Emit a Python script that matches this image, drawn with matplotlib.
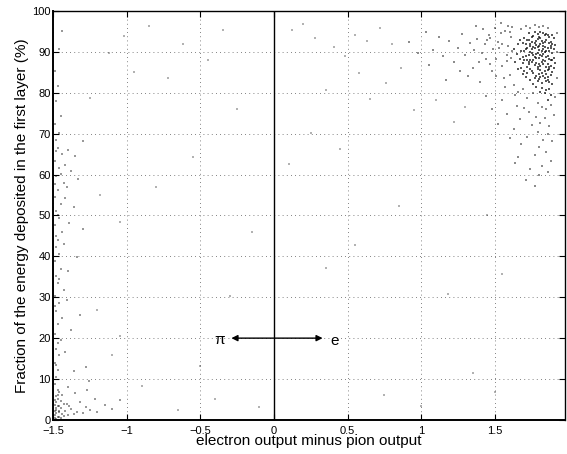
import numpy as np
import matplotlib
matplotlib.use('Agg')
import matplotlib.pyplot as plt

plt.rcParams['font.family'] = ['Liberation Sans', 'DejaVu Sans']

# dense electron cluster (output difference, energy fraction %)
core_pts = [
    (1.70, 90.1), (1.78, 88.4), (1.84, 91.2), (1.81, 85.6), (1.75, 92.3), (1.88, 87.9), (1.72, 86.4), (1.79, 93.1), (1.86, 83.2), (1.83, 89.5),
    (1.69, 88.8), (1.76, 84.7), (1.90, 90.6), (1.74, 91.5), (1.82, 82.4), (1.87, 93.6), (1.80, 87.1), (1.77, 90.9), (1.85, 86.2), (1.73, 89.3),
    (1.66, 91.8), (1.89, 85.0), (1.71, 83.9), (1.84, 94.2), (1.78, 81.5), (1.81, 91.9), (1.86, 89.0), (1.75, 87.6), (1.68, 86.0), (1.83, 84.1),
    (1.79, 89.8), (1.88, 92.4), (1.72, 92.8), (1.85, 80.6), (1.76, 93.9), (1.80, 83.3), (1.87, 88.3), (1.70, 85.2), (1.82, 92.7), (1.74, 88.1),
    (1.91, 87.2), (1.77, 86.8), (1.84, 87.7), (1.65, 89.4), (1.81, 80.2), (1.89, 82.1), (1.73, 94.5), (1.86, 91.0), (1.79, 85.9), (1.83, 92.1),
    (1.71, 90.6), (1.88, 79.4), (1.76, 89.1), (1.82, 88.9), (1.67, 92.9), (1.85, 84.6), (1.78, 91.6), (1.90, 93.3), (1.74, 83.0), (1.80, 90.4),
    (1.87, 85.8), (1.69, 87.3), (1.84, 79.9), (1.77, 94.8), (1.81, 86.5), (1.86, 94.0), (1.72, 88.0), (1.83, 90.8), (1.75, 85.4), (1.89, 89.6),
    (1.79, 82.8), (1.64, 87.5), (1.85, 92.8), (1.70, 93.4), (1.82, 84.9), (1.88, 91.3), (1.76, 91.1), (1.80, 93.7), (1.84, 85.3), (1.73, 86.9),
    (1.87, 82.7), (1.78, 87.3), (1.90, 88.5), (1.68, 90.3), (1.81, 89.2), (1.86, 78.3), (1.74, 90.0), (1.83, 86.9), (1.77, 83.6), (1.89, 94.1),
    (1.71, 91.9), (1.85, 88.7), (1.79, 94.4), (1.82, 81.1), (1.66, 85.7), (1.88, 84.4), (1.75, 89.7), (1.84, 83.7), (1.80, 91.4), (1.87, 90.2),
    (1.72, 84.8), (1.78, 92.6), (1.91, 91.7), (1.83, 94.6), (1.69, 92.2), (1.86, 87.0), (1.76, 82.2), (1.81, 93.4), (1.74, 92.0), (1.85, 90.1),
    (1.79, 86.3), (1.88, 86.6), (1.70, 87.9), (1.82, 90.3), (1.77, 88.7), (1.84, 92.5), (1.67, 88.3), (1.87, 80.9), (1.73, 93.0), (1.80, 84.5),
    (1.89, 92.0), (1.75, 90.7), (1.83, 88.1), (1.78, 84.0), (1.86, 85.5), (1.71, 89.0), (1.81, 94.9), (1.85, 82.9), (1.76, 87.9), (1.90, 86.1),
    (1.63, 90.8), (1.82, 87.5), (1.88, 90.9), (1.74, 85.9), (1.79, 91.2), (1.84, 89.9), (1.72, 91.0), (1.87, 92.2), (1.77, 92.1), (1.80, 88.6),
    (1.86, 83.9), (1.69, 84.6), (1.83, 91.5), (1.75, 93.5), (1.89, 88.0), (1.81, 83.8), (1.78, 89.4), (1.85, 94.4), (1.73, 87.4), (1.87, 86.4),
]

halo_pts = [
    (1.52, 92.4), (1.58, 89.1), (1.46, 94.0), (1.61, 93.6), (1.55, 86.5), (1.49, 90.7), (1.60, 84.3), (1.43, 91.8), (1.57, 95.2), (1.63, 82.0),
    (1.51, 88.2), (1.38, 93.1), (1.59, 91.4), (1.54, 94.6), (1.47, 87.0), (1.62, 96.1), (1.41, 89.6), (1.56, 83.7), (1.50, 95.8), (1.64, 79.5),
    (1.45, 92.9), (1.58, 87.8), (1.36, 90.5), (1.53, 90.9), (1.60, 94.8), (1.48, 85.4), (1.65, 76.8), (1.42, 95.5), (1.55, 92.0), (1.61, 88.6),
    (1.33, 92.2), (1.57, 81.4), (1.44, 88.3), (1.59, 96.4), (1.51, 84.0), (1.39, 87.6), (1.62, 90.2), (1.54, 97.0), (1.47, 93.3), (1.66, 80.1),
    (1.68, 95.6), (1.71, 96.3), (1.74, 95.9), (1.77, 96.6), (1.80, 96.0), (1.83, 96.2), (1.86, 95.7), (1.69, 81.0), (1.72, 78.7), (1.76, 79.9),
    (1.79, 77.6), (1.82, 76.4), (1.85, 75.9), (1.88, 77.0), (1.91, 79.0), (1.92, 83.5), (1.92, 89.9), (1.92, 94.5), (1.73, 75.2), (1.78, 74.1),
    (1.81, 72.6), (1.84, 73.8), (1.87, 71.9), (1.90, 74.6), (1.70, 76.3), (1.86, 69.8), (1.83, 68.5), (1.79, 70.4), (1.75, 72.0), (1.89, 68.1),
    (1.67, 73.5), (1.80, 66.7), (1.85, 65.4), (1.72, 69.2), (1.77, 64.8), (1.88, 63.3), (1.63, 71.1), (1.82, 62.0), (1.58, 74.7), (1.68, 67.4),
    (1.74, 61.4), (1.55, 78.2), (1.66, 64.3), (1.80, 59.8), (1.60, 68.9), (1.71, 58.6), (1.86, 60.5), (1.52, 72.4), (1.64, 62.7), (1.77, 57.1),
    (1.35, 86.0), (1.30, 89.2), (1.28, 94.3), (1.25, 91.0), (1.22, 87.4), (1.19, 92.6), (1.15, 88.9), (1.32, 84.1), (1.40, 82.6), (1.44, 79.3),
    (1.48, 76.0), (1.37, 96.2), (1.26, 85.3), (1.12, 93.5), (1.08, 90.4), (1.03, 94.9), (0.98, 89.7), (1.05, 86.8), (0.92, 92.3), (1.17, 83.0),
]

sparse_pts = [
    (0.12, 95.3), (0.20, 96.8), (0.28, 93.4), (0.41, 91.2), (0.55, 94.1), (0.63, 92.6), (0.72, 95.7), (0.80, 91.9), (0.35, 80.6), (0.48, 88.9),
    (0.58, 84.7), (0.86, 86.1), (0.76, 82.3), (0.65, 78.5), (0.25, 70.2), (0.95, 75.8), (1.10, 78.1), (1.22, 72.9), (1.30, 76.5), (0.45, 66.3),
    (-0.35, 95.4), (-0.62, 92.0), (-0.85, 96.2), (-1.02, 93.8), (-0.45, 88.1), (-0.25, 75.9), (-0.72, 83.5), (-0.95, 85.0), (-1.12, 89.6), (-1.25, 78.7),
    (-0.55, 64.2), (-0.80, 57.0), (-1.05, 48.3), (-1.18, 54.9), (-0.15, 46.0), (0.35, 37.1), (1.18, 30.8), (1.35, 11.5), (0.75, 6.0), (1.00, 3.5),
    (-0.10, 3.2), (-0.40, 5.0), (-0.65, 2.5), (-0.90, 8.2), (-1.10, 16.0), (-1.20, 27.0), (-1.05, 20.5), (-0.50, 13.3), (0.55, 42.7), (1.50, 6.8),
    (1.55, 35.6), (0.10, 62.5), (-0.30, 30.2), (0.85, 52.4), (1.45, 50.1),
]

# pion events piled up at the left edge
pion_pts = [
    (-1.49, 1.2), (-1.48, 2.5), (-1.47, 0.8), (-1.49, 3.6), (-1.46, 1.9), (-1.48, 4.3), (-1.45, 2.8), (-1.49, 0.4), (-1.47, 5.1), (-1.44, 1.5),
    (-1.48, 3.0), (-1.46, 0.6), (-1.43, 3.9), (-1.49, 2.1), (-1.47, 6.2), (-1.42, 2.3), (-1.45, 4.7), (-1.48, 1.7), (-1.40, 1.1), (-1.46, 3.3),
    (-1.41, 4.0), (-1.38, 2.6), (-1.44, 6.0), (-1.36, 1.4), (-1.47, 7.3), (-1.39, 3.5), (-1.34, 2.0), (-1.43, 0.9), (-1.32, 4.4), (-1.30, 1.6),
    (-1.28, 3.1), (-1.25, 2.4), (-1.22, 5.2), (-1.35, 6.6), (-1.20, 1.9), (-1.15, 3.7), (-1.10, 2.7), (-1.05, 4.8), (-1.27, 7.4), (-1.40, 8.1),
    (-1.49, 8.9), (-1.48, 10.5), (-1.47, 12.2), (-1.49, 14.0), (-1.46, 15.8), (-1.48, 17.3), (-1.45, 19.6), (-1.49, 21.1), (-1.47, 23.4), (-1.44, 24.9),
    (-1.48, 26.7), (-1.46, 28.5), (-1.49, 30.3), (-1.43, 31.8), (-1.47, 33.6), (-1.48, 35.2), (-1.45, 37.0), (-1.49, 38.9), (-1.46, 40.6), (-1.48, 42.4),
    (-1.47, 44.1), (-1.44, 45.9), (-1.49, 47.6), (-1.46, 49.3), (-1.48, 51.0), (-1.45, 52.8), (-1.49, 54.5), (-1.47, 56.3), (-1.43, 58.0), (-1.48, 59.7),
    (-1.46, 61.5), (-1.49, 63.2), (-1.44, 64.9), (-1.47, 66.6), (-1.48, 68.4), (-1.46, 70.1), (-1.49, 72.3), (-1.45, 74.4), (-1.42, 62.3), (-1.41, 57.0),
    (-1.40, 66.0), (-1.38, 60.8), (-1.42, 54.2), (-1.39, 48.1), (-1.43, 43.0), (-1.40, 36.5), (-1.41, 29.4), (-1.38, 22.0), (-1.42, 16.7), (-1.36, 11.9),
    (-1.35, 64.5), (-1.33, 58.9), (-1.36, 52.0), (-1.30, 46.6), (-1.34, 39.8), (-1.32, 25.6), (-1.28, 13.0), (-1.26, 9.4), (-1.30, 68.3), (-1.48, 77.9),
    (-1.47, 81.6), (-1.49, 85.3), (-1.46, 90.7), (-1.44, 95.0), (-1.48, 13.4), (-1.47, 18.8), (-1.49, 27.9), (-1.46, 34.4), (-1.48, 45.0), (-1.47, 50.2),
    (-1.49, 57.8), (-1.45, 60.1), (-1.48, 65.7), (-1.46, 6.9), (-1.48, 5.9), (-1.49, 4.9), (-1.47, 3.4), (-1.46, 2.2), (-1.48, 0.2), (-1.45, 0.5),
]

xticks = [-1.5, -1, -0.5, 0, 0.5, 1, 1.5]
xticklabels = ['\u22121.5', '\u22121', '\u22120.5', '0', '0.5', '1', '1.5']
yticks = list(range(0, 101, 10))


def main():
    fig = plt.figure(figsize=(5.67, 4.54), dpi=100)
    ax = fig.add_axes([0.094, 0.075, 0.902, 0.901])

    # (points, marker size, grey level)
    for pts, size, alpha in [(sparse_pts, 0.7, 0.3), (pion_pts, 0.9, 0.4),
                             (halo_pts, 1.1, 0.45), (core_pts, 1.6, 0.65)]:
        arr = np.array(pts)
        ax.scatter(arr[:, 0], arr[:, 1], s=size, marker='s', c='k',
                   alpha=alpha, linewidths=0, zorder=2)

    ax.axvline(0, color='k', lw=1.0, zorder=3)
    ax.annotate('', xy=(-0.29, 20), xytext=(0.33, 20),
                arrowprops=dict(arrowstyle='<|-|>', color='k', lw=1.0,
                                mutation_scale=9, shrinkA=0, shrinkB=0),
                zorder=4)
    ax.text(-0.37, 19.5, '\u03c0', fontsize=11, ha='center', va='center')
    ax.text(0.41, 19.2, 'e', fontsize=11, ha='center', va='center')

    ax.set_xlim(-1.5, 1.975)
    ax.set_ylim(0, 100)
    ax.set_xticks(xticks)
    ax.set_xticklabels(xticklabels)
    ax.set_yticks(yticks)
    ax.tick_params(direction='in', labelsize=8, length=4, width=0.8,
                   top=True, right=True, pad=2)
    ax.tick_params(axis='x', pad=4)
    ax.grid(True, linestyle=(0, (1, 4)), color='0.35', lw=0.6)
    for sp in ax.spines.values():
        sp.set_linewidth(1.0)
    ax.spines['left'].set_linewidth(1.4)
    ax.spines['bottom'].set_linewidth(1.4)

    ax.set_xlabel('electron output minus pion output', fontsize=11, labelpad=-1)
    ax.set_ylabel('Fraction of the energy deposited in the first layer (%)',
                  fontsize=11, labelpad=2)

    fig.savefig('out.png', dpi=100)


if __name__ == '__main__':
    main()
